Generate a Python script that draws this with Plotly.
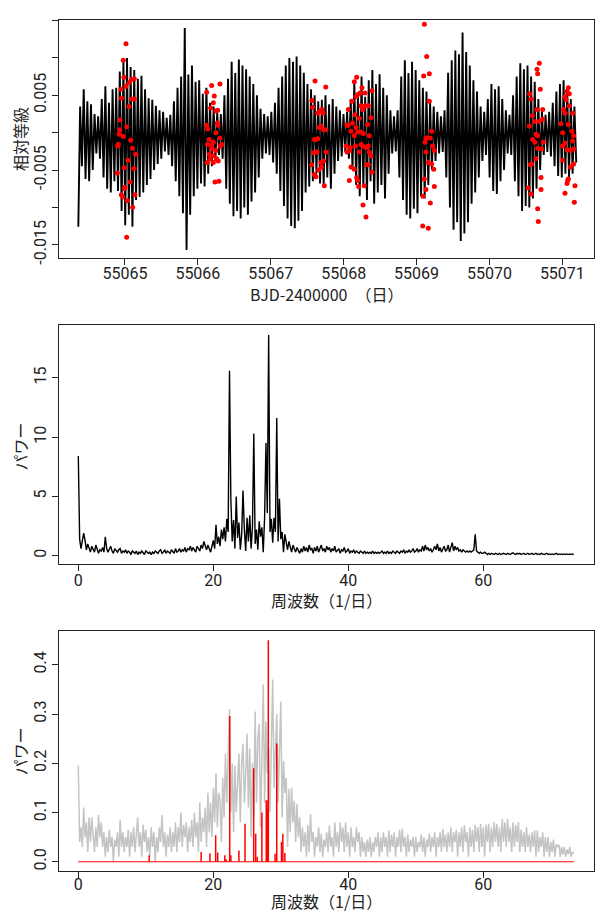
import numpy as np
import plotly.graph_objects as go

# ---------------- data ----------------
# light curve (relative magnitude, in millimag) - sequence of extrema
LC_T_START = 55064.36
LC_T_END = 55071.19
lc_mmag = [
    -12.6,
    3.5, -4.5, 5.8, -6.2, 4.2, -6.5, 3.8, -5.0,
    2.5, -2.8, 2.2,
    -3.5, 4.5, -6.0, 6.2, -7.5, 4.0, -8.0, 5.8, -6.5, 6.0, -7.8,
    8.2, -10.5, 9.5, -12.4, 10.0, -11.0, 8.8, -12.6,
    8.4, -9.0, 7.2, -8.6, 7.6, -8.0,
    5.8, -7.0, 4.6, -6.2, 4.4, -5.0, 3.6, -4.2, 3.0, -3.5, 2.8,
    -2.5, 2.0, -3.0, 2.4,
    -4.5, 4.2, -6.5, 6.0, -8.5, 7.5, -10.8, 14.0, -15.7, 7.8, -11.0, 9.0, -8.5,
    6.8, -7.5, 7.0, -6.8, 5.2, -7.2, 6.0, -5.5,
    4.0, -4.5, 3.5, -3.8, 2.8, -3.0, 2.5,
    -3.5, 5.0, -7.5, 7.2, -9.5, 9.5, -11.2, 8.0, -10.5, 9.8, -11.5, 9.0, -10.0, 8.5, -11.0, 7.5, -9.2, 6.5, -8.0, 5.0, -6.0,
    3.2, -3.5, 2.5, -2.8, 2.2, -3.0, 2.8, -4.0,
    4.0, -5.5, 6.0, -7.8, 7.5, -9.8, 9.0, -11.5, 10.0, -12.5, 9.5, -12.8, 10.2, -11.8, 9.0, -10.5, 8.0,
    -8.0, 6.5, -7.2, 5.8, -6.5, 5.0, -5.5, 4.2,
    -6.8, 4.4, -7.0, 5.0, -6.0, 3.8, -7.5, 4.5, -5.5, 3.5, -3.8,
    3.0, -3.2, 2.5, -2.6, 2.8, -3.5,
    4.5, -5.0, 6.8, -7.0, 5.2, -8.5, 7.5, -7.2, 4.8, -9.0, 7.0, -6.5, 8.4, -9.5, 6.5, -8.0, 7.8, -7.0, 6.0, -8.8, 5.0, -5.5,
    3.0, -2.8, 2.2, -2.5, 3.0,
    -6.0, 7.5, -9.0, 9.7, -11.0, 8.0, -11.5, 9.5, -10.2, 8.4, -10.8, 7.0, -8.5, 6.0, -8.8, 5.5, -7.0, 4.0,
    -5.0, 3.5, -3.8, 2.8, -2.8, 2.2, -2.6, 3.0,
    -6.0, 8.0, -10.0, 9.7, -13.0, 11.0, -12.0, 10.5, -14.5, 13.4, -13.5, 10.8, -12.0, 9.0,
    -9.5, 7.0, -8.0, 5.5, -6.0, 3.5, -3.8, 2.8,
    -3.0, 4.5, -6.0, 6.5, -7.8, 5.8, -8.2, 6.2, -6.5, 4.5, -5.0,
    3.0, -2.8, 2.4, -3.0,
    5.0, -6.5, 7.5, -8.5, 9.3, -10.5, 8.5, -9.8, 9.0, -10.0, 7.5, -8.8, 6.8, -7.5, 4.5, -5.0,
    3.0, -3.0, 2.4, -2.6, 2.8, -3.2,
    4.0, -4.5, 5.5, -5.8, 6.5, -6.0, 7.0, -5.5, 6.0, -6.0, 4.5, -5.5, 3.5, -4.0,
]

# red observation points (BJD-2400000, millimag)
obs_t = [
    55065.014, 55064.977, 55064.986, 55064.945, 55065.014, 55065.059, 55065.091, 55065.128, 55064.950, 55065.091,
    55065.128, 55065.055, 55064.931, 55065.023, 55064.927, 55064.922, 55064.977, 55065.078, 55065.101, 55064.909,
    55064.899, 55065.146, 55065.041, 55064.991, 55065.123, 55064.895, 55065.069, 55065.000, 55064.991, 55064.950,
    55064.968, 55065.137, 55065.032, 55065.105, 55065.023,
    55066.120, 55066.189, 55066.303, 55066.225, 55066.212, 55066.175, 55066.248, 55066.271, 55066.120, 55066.134,
    55066.267, 55066.276, 55066.248, 55066.157, 55066.212, 55066.134, 55066.189, 55066.308, 55066.326, 55066.248,
    55066.157, 55066.212, 55066.166, 55066.257, 55066.129, 55066.212, 55066.280, 55066.235, 55066.289, 55066.189,
    55066.303,
    55067.607, 55067.566, 55067.575, 55067.643, 55067.675, 55067.703, 55067.717, 55067.689, 55067.666, 55067.726,
    55067.620, 55067.598, 55067.643, 55067.749, 55067.588, 55067.620, 55067.758, 55067.561, 55067.726, 55067.689,
    55067.698, 55067.657, 55067.598, 55067.620, 55067.735, 55067.634, 55067.754,
    55068.146, 55068.178, 55068.064, 55068.114, 55068.169, 55068.192, 55068.224, 55068.251, 55068.293, 55068.389,
    55068.238, 55068.293, 55068.338, 55068.261, 55068.155, 55068.046, 55068.064, 55068.123, 55068.215, 55068.329,
    55068.375, 55068.169, 55068.101, 55068.192, 55068.238, 55068.146, 55068.270, 55068.352, 55068.032, 55068.091,
    55068.160, 55068.238, 55068.261, 55068.306, 55068.338, 55068.046, 55068.078, 55068.215, 55068.352, 55068.375,
    55068.338, 55068.311, 55068.101, 55068.146, 55068.178, 55068.192, 55068.206, 55068.283, 55068.078, 55068.265,
    55068.306, 55068.389,
    55069.107, 55069.139, 55069.097, 55069.175, 55069.175, 55069.207, 55069.129, 55069.152, 55069.189, 55069.116,
    55069.221, 55069.244, 55069.129, 55069.161, 55069.207, 55069.235, 55069.107, 55069.129, 55069.244, 55069.189,
    55069.088, 55069.084, 55069.161,
    55070.684, 55070.652, 55070.661, 55070.551, 55070.570, 55070.697, 55070.588, 55070.652, 55070.730, 55070.615,
    55070.684, 55070.730, 55070.661, 55070.547, 55070.592, 55070.624, 55070.739, 55070.661, 55070.716, 55070.638,
    55070.579, 55070.560, 55070.707, 55070.533, 55070.570, 55070.707, 55070.661, 55070.670, 55070.638,
    55071.082, 55071.064, 55071.096, 55071.036, 55071.050, 55071.018, 55071.036, 55071.096, 55071.141, 55070.981,
    55071.082, 55071.004, 55071.132, 55071.155, 55071.141, 55071.036, 55071.004, 55071.064, 55071.110, 55071.155,
    55071.004, 55071.110, 55071.155, 55071.073, 55071.064, 55071.082, 55071.036, 55071.173, 55071.164,
]
obs_mmag = [
    11.9, 9.7, 7.4, 5.8, 6.2, 6.7, 7.1, 7.2, 4.6, 4.5,
    4.5, 3.5, 1.7, 0.8, 0.4, -0.2, -0.5, -1.0, -2.1, -1.6,
    -1.8, -2.9, -3.7, -4.7, -4.8, -5.4, -6.6, -7.3, -7.5, -8.3,
    -8.6, -8.3, -9.1, -10.0, -14.0,
    5.4, 6.3, 6.5, 4.9, 4.0, 3.3, 2.9, 3.0, 1.0, 0.5,
    1.3, 1.0, 0.0, -0.9, -1.3, -1.6, -1.8, -1.8, -1.6, -2.4,
    -2.9, -3.1, -3.5, -3.5, -4.0, -4.0, -3.8, -6.6, -6.5, -2.2,
    -0.7,
    6.9, 4.3, 3.4, 2.6, 2.9, 3.1, 2.6, 0.9, 0.7, 0.4,
    -0.9, -0.9, -0.8, 0.4, -2.7, -2.6, -2.6, -4.3, -3.8, -4.0,
    -4.6, -5.0, -5.6, -5.9, -7.1, -2.6, 6.1,
    6.8, 7.4, 3.1, 4.2, 4.8, 5.1, 5.3, 6.0, 5.3, 5.6,
    3.6, 3.6, 3.6, 3.1, 2.4, 1.0, 1.0, 1.3, 1.9, 1.1,
    2.0, 0.7, 0.2, 0.1, 0.1, -0.4, -0.1, -0.4, -1.8, -2.0,
    -1.8, -1.6, -1.8, -2.0, -1.8, -2.6, -2.4, -2.6, -2.6, -3.1,
    -4.3, -4.3, -4.6, -4.9, -6.0, -6.4, -7.2, -7.1, -6.4, -9.7,
    -11.3, -5.3,
    14.5, 10.2, 7.6, 7.9, 4.2, 0.2, -0.7, -0.7, -0.7, -1.3,
    -1.8, -2.4, -2.6, -4.0, -4.2, -4.9, -6.2, -7.6, -7.2, -9.4,
    -8.5, -12.5, -12.8,
    9.3, 8.5, 7.9, 5.2, 4.5, 5.8, 2.3, 3.1, 3.1, 1.5,
    1.5, 1.8, -0.4, 0.9, -0.9, -1.3, -1.3, -2.1, -2.2, -3.5,
    -4.2, -4.3, -6.0, -7.4, -8.2, -7.6, -10.2, -11.9, -0.2,
    6.0, 5.5, 5.2, 4.8, 4.4, 3.1, 2.6, 3.6, 2.6, 1.2,
    1.1, 0.0, 0.2, -0.4, -1.1, -1.4, -1.8, -2.3, -2.4, -2.2,
    -3.7, -4.6, -4.2, -6.4, -6.8, -6.2, -8.1, -7.1, -9.3,
]

# periodogram (frequency grid step 0.2 1/day, starting at 0)
FREQ_STEP = 0.2
power = [
    8.4, 1.4, 0.6, 1.2, 1.9,   1.3, 0.5, 1.0, 0.7, 0.3,
    0.8, 0.5, 0.3, 0.9, 0.6,   0.2, 0.5, 0.4, 0.7, 0.3,
    1.6, 0.6, 0.3, 0.5, 0.8,   0.4, 0.2, 0.6, 0.4, 0.3,
    0.5, 0.6, 0.2, 0.4, 0.3,   0.5, 0.2, 0.4, 0.3, 0.1,
    0.4, 0.3, 0.2, 0.4, 0.1,   0.3, 0.2, 0.4, 0.2, 0.1,
    0.4, 0.3, 0.2, 0.3, 0.1,   0.3, 0.2, 0.4, 0.3, 0.2,
    0.4, 0.5, 0.2, 0.3, 0.5,   0.2, 0.4, 0.3, 0.2, 0.5,
    0.3, 0.2, 0.6, 0.3, 0.4,   0.6, 0.3, 0.5, 0.4, 0.7,
    0.3, 0.6, 0.5, 0.8, 0.4,   0.7, 0.5, 0.3, 0.8, 0.6,
    0.4, 0.9, 0.6, 1.2, 0.8,   0.5, 0.9, 0.6, 0.3, 0.8,
    1.3, 0.6, 2.6, 1.0, 1.6,   0.8, 2.2, 1.4, 2.4, 1.2,
    3.1, 2.0, 15.6, 4.8, 1.2,  3.0, 0.6, 5.0, 1.5, 2.8,
    0.5, 1.8, 5.5, 2.2, 0.4,   3.2, 1.2, 3.4, 0.6, 2.4,
    10.3, 1.0, 2.2, 0.5, 2.9,  1.6, 2.4, 0.3, 3.2, 9.5,
    3.6, 18.6, 2.0, 3.1, 1.1,  3.2, 2.0, 11.6, 1.2, 4.8,
    1.4, 2.0, 0.3, 1.8, 1.1,   0.5, 1.2, 0.7, 0.3, 0.9,
    0.5, 0.3, 0.7, 0.4, 0.2,   0.6, 0.3, 0.8, 0.4, 0.7,
    0.3, 0.9, 0.5, 0.6, 0.2,   0.7, 0.4, 0.8, 0.3, 0.6,
    0.9, 0.4, 0.6, 0.3, 0.8,   0.5, 0.7, 0.3, 0.6, 0.4,
    0.8, 0.3, 0.5, 0.6, 0.2,   0.5, 0.4, 0.7, 0.3, 0.4,
    0.6, 0.2, 0.4, 0.3, 0.5,   0.2, 0.4, 0.3, 0.2, 0.4,
    0.3, 0.2, 0.4, 0.2, 0.3,   0.2, 0.3, 0.2, 0.4, 0.2,
    0.3, 0.2, 0.3, 0.2, 0.3,   0.4, 0.2, 0.3, 0.2, 0.4,
    0.2, 0.3, 0.2, 0.4, 0.3,   0.2, 0.4, 0.3, 0.2, 0.4,
    0.3, 0.5, 0.2, 0.4, 0.3,   0.5, 0.3, 0.4, 0.6, 0.3,
    0.4, 0.6, 0.3, 0.5, 0.4,   0.8, 0.4, 0.9, 0.5, 0.7,
    0.4, 0.6, 0.3, 0.5, 0.8,   0.5, 1.0, 0.4, 0.7, 0.3,
    0.6, 0.8, 0.4, 0.5, 0.9,   0.3, 0.7, 1.1, 0.4, 0.8,
    0.5, 0.7, 0.4, 0.5, 0.3,   0.5, 0.4, 0.3, 0.4, 0.3,
    0.4, 0.3, 0.4, 0.5, 1.8,   0.4, 0.3, 0.2, 0.3, 0.2,
    0.2, 0.3, 0.2, 0.1, 0.2,   0.1, 0.2, 0.15, 0.1, 0.2,
    0.15, 0.1, 0.2, 0.1, 0.15, 0.2, 0.15, 0.1, 0.2, 0.15,
    0.1, 0.2, 0.25, 0.15, 0.1, 0.2, 0.15, 0.2, 0.1, 0.15,
    0.2, 0.1, 0.15, 0.2, 0.1,  0.15, 0.2, 0.1, 0.15, 0.2,
    0.1, 0.15, 0.1, 0.2, 0.15, 0.1, 0.15, 0.2, 0.1, 0.15,
    0.1, 0.15, 0.1, 0.15, 0.2, 0.1, 0.15, 0.1, 0.15, 0.1,
    0.15, 0.1, 0.15, 0.1, 0.15, 0.1, 0.15, 0.1,
]

# residual / comparison spectrum (grey), same frequency grid
power2 = [
    0.195, 0.04, 0.07, 0.03, 0.11,   0.05, 0.08, 0.02, 0.09, 0.04,
    0.09, 0.06, 0.02, 0.07, 0.03,    0.095, 0.05, 0.08, 0.03, 0.06,
    0.01, 0.05, 0.02, 0.065, 0.03,   0.05, 0.0, 0.045, 0.03, 0.06,
    0.01, 0.085, 0.03, 0.06, 0.02,   0.05, 0.03, 0.065, 0.01, 0.06,
    0.03, 0.07, 0.02, 0.055, 0.09,   0.03, 0.06, 0.01, 0.075, 0.04,
    0.065, 0.02, 0.05, 0.01, 0.07,   0.03, 0.06, 0.0, 0.05, 0.02,
    0.07, 0.04, 0.095, 0.03, 0.06,   0.01, 0.055, 0.03, 0.07, 0.02,
    0.06, 0.03, 0.08, 0.02, 0.07,    0.04, 0.1, 0.03, 0.075, 0.05,
    0.08, 0.02, 0.07, 0.04, 0.085,   0.03, 0.1, 0.05, 0.08, 0.02,
    0.12, 0.04, 0.09, 0.06, 0.11,    0.03, 0.14, 0.06, 0.12, 0.05,
    0.15, 0.08, 0.18, 0.07, 0.14,    0.125, 0.04, 0.17, 0.09, 0.22,
    0.12, 0.215, 0.31, 0.1, 0.2,     0.06, 0.195, 0.1, 0.17, 0.22,
    0.08, 0.2, 0.24, 0.12, 0.18,     0.26, 0.11, 0.23, 0.05, 0.2,
    0.09, 0.305, 0.12, 0.25, 0.28,   0.07, 0.21, 0.36, 0.12, 0.285,
    0.18, 0.23, 0.1, 0.27, 0.37,     0.15, 0.24, 0.3, 0.12, 0.26,
    0.325, 0.09, 0.205, 0.14, 0.17,  0.03, 0.148, 0.06, 0.15, 0.08,
    0.124, 0.04, 0.118, 0.05, 0.09,  0.02, 0.07, 0.03, 0.06, 0.01,
    0.075, 0.02, 0.097, 0.04, 0.06,  0.01, 0.05, 0.03, 0.07, 0.02,
    0.057, 0.01, 0.045, 0.03, 0.06,  0.02, 0.074, 0.03, 0.05, 0.01,
    0.08, 0.03, 0.06, 0.02, 0.08,    0.04, 0.07, 0.02, 0.08, 0.03,
    0.06, 0.01, 0.07, 0.03, 0.05,    0.02, 0.07, 0.04, 0.06, 0.01,
    0.05, 0.02, 0.04, 0.01, 0.045,   0.02, 0.05, 0.01, 0.04, 0.02,
    0.05, 0.03, 0.06, 0.01, 0.05,    0.02, 0.06, 0.03, 0.05, 0.01,
    0.064, 0.02, 0.055, 0.03, 0.06,  0.01, 0.05, 0.03, 0.065, 0.02,
    0.067, 0.03, 0.05, 0.01, 0.055,  0.02, 0.045, 0.03, 0.05, 0.01,
    0.05, 0.02, 0.04, 0.03, 0.055,   0.02, 0.05, 0.01, 0.045, 0.03,
    0.057, 0.02, 0.05, 0.03, 0.06,   0.01, 0.05, 0.03, 0.06, 0.02,
    0.067, 0.03, 0.055, 0.02, 0.06,  0.03, 0.07, 0.02, 0.06, 0.04,
    0.065, 0.01, 0.06, 0.03, 0.07,   0.02, 0.074, 0.04, 0.06, 0.01,
    0.07, 0.03, 0.065, 0.02, 0.075,  0.04, 0.07, 0.02, 0.077, 0.03,
    0.07, 0.01, 0.075, 0.04, 0.077,  0.02, 0.07, 0.03, 0.08, 0.04,
    0.077, 0.03, 0.07, 0.02, 0.087,  0.04, 0.08, 0.03, 0.087, 0.04,
    0.07, 0.02, 0.08, 0.03, 0.075,   0.04, 0.08, 0.02, 0.065, 0.03,
    0.06, 0.02, 0.07, 0.03, 0.055,   0.02, 0.06, 0.03, 0.064, 0.01,
    0.064, 0.02, 0.05, 0.03, 0.06,   0.01, 0.05, 0.02, 0.05, 0.01,
    0.04, 0.02, 0.045, 0.01, 0.035,  0.03, 0.035, 0.01, 0.03, 0.015,
    0.03, 0.01, 0.025, 0.015, 0.03,  0.01, 0.02, 0.017,
]

# spectral window spikes (red)
win_freq = [10.5, 18.2, 19.5, 20.35, 20.65, 21.7, 21.9, 22.43, 22.6, 23.8, 24.7, 25.98,
            26.28, 26.5, 27.2, 27.85, 27.95, 28.05, 28.15, 29.15, 29.4, 30.1, 30.3, 30.6]
win_power = [0.013, 0.02, 0.017, 0.054, 0.019, 0.013, 0.005, 0.296, 0.013, 0.023, 0.077, 0.19,
             0.057, 0.01, 0.10, 0.125, 0.125, 0.11, 0.45, 0.016, 0.24, 0.04, 0.057, 0.018]

top_xticks = [55065, 55066, 55067, 55068, 55069, 55070, 55071]
top_xticktext = ["55065", "55066", "55067", "55068", "55069", "55070", "55071"]
top_yticks = [-0.015, -0.01, -0.005, 0.0, 0.005, 0.01, 0.015]
top_yticktext = ["-0.015", "", "-0.005", "", "0.005", "", "0.015"]
freq_ticks = [0, 20, 40, 60]
freq_ticktext = ["0", "20", "40", "60"]
mid_yticks = [0, 5, 10, 15]
mid_yticktext = ["0", "5", "10", "15"]
bot_yticks = [0.0, 0.1, 0.2, 0.3, 0.4]
bot_yticktext = ["0.0", "0.1", "0.2", "0.3", "0.4"]

# ---------------- derived ----------------
n_lc = len(lc_mmag)
lc_t = [LC_T_START + (LC_T_END - LC_T_START) * i / (n_lc - 1) for i in range(n_lc)]
lc_mag = [v / 1000.0 for v in lc_mmag]
obs_mag = [v / 1000.0 for v in obs_mmag]
freq = [round(i * FREQ_STEP, 3) for i in range(len(power))]
freq2 = [round(i * FREQ_STEP, 3) for i in range(len(power2))]

win_x, win_y = [], []
for f, p in zip(win_freq, win_power):
    win_x += [f, f, None]
    win_y += [0, p, None]

FONT = "Noto Sans CJK JP"
TICK_FONT = "Roboto"
W, H = 595, 917

fig = go.Figure()
fig.add_trace(go.Scatter(x=lc_t, y=lc_mag, mode="lines",
                         line=dict(color="black", width=1.9), xaxis="x", yaxis="y"))
fig.add_trace(go.Scatter(x=obs_t, y=obs_mag, mode="markers",
                         marker=dict(color="#ff0000", size=5), xaxis="x", yaxis="y"))
fig.add_trace(go.Scatter(x=freq, y=power, mode="lines",
                         line=dict(color="black", width=1.4), xaxis="x2", yaxis="y2"))
fig.add_trace(go.Scatter(x=freq2, y=power2, mode="lines",
                         line=dict(color="#c4c4c4", width=1.5), xaxis="x3", yaxis="y3"))
fig.add_trace(go.Scatter(x=[freq2[0], freq2[-1]], y=[0, 0], mode="lines",
                         line=dict(color="#ff0000", width=1.2), xaxis="x3", yaxis="y3"))
fig.add_trace(go.Scatter(x=win_x, y=win_y, mode="lines",
                         line=dict(color="#ff0000", width=1.5), xaxis="x3", yaxis="y3"))

def px_x(a, b):
    return [a / W, b / W]

def px_y(top, bottom):
    return [1 - bottom / H, 1 - top / H]

axis_common = dict(showline=True, mirror=True, linecolor="#222222", linewidth=1,
                   ticks="outside", ticklen=6, tickwidth=1, tickcolor="#222222",
                   showgrid=False, zeroline=False, tickmode="array",
                   tickfont=dict(family=TICK_FONT, size=16, color="#222222"))

fig.update_layout(
    width=W, height=H, margin=dict(l=0, r=0, t=0, b=0),
    paper_bgcolor="white", plot_bgcolor="white", showlegend=False,
    xaxis=dict(domain=px_x(59, 594), anchor="y", range=[55064.095, 55071.434],
               tickvals=top_xticks, ticktext=top_xticktext, ticklabelstandoff=-5, **axis_common),
    yaxis=dict(domain=px_y(20, 260), anchor="x", range=[-0.01678, 0.0151],
               tickvals=top_yticks, ticktext=top_yticktext, tickangle=-90, **axis_common),
    xaxis2=dict(domain=px_x(59, 594), anchor="y2", range=[-2.86, 76.4],
                tickvals=freq_ticks, ticktext=freq_ticktext, ticklabelstandoff=-4, **axis_common),
    yaxis2=dict(domain=px_y(328, 568), anchor="x2", range=[-0.67, 19.41],
                tickvals=mid_yticks, ticktext=mid_yticktext, tickangle=-90, **axis_common),
    xaxis3=dict(domain=px_x(59, 594), anchor="y3", range=[-2.86, 76.4],
                tickvals=freq_ticks, ticktext=freq_ticktext, ticklabelstandoff=-7, **axis_common),
    yaxis3=dict(domain=px_y(635.7, 877.3), anchor="x3", range=[-0.018, 0.469],
                tickvals=bot_yticks, ticktext=bot_yticktext, tickangle=-90, **axis_common),
)

title_font = dict(family=FONT, size=16, color="#222222")
annots = [
    dict(text="BJD-2400000\u3000（日）", x=326.5 / W, y=1 - 296 / H, textangle=0),
    dict(text="相対等級", x=20 / W, y=1 - 140 / H, textangle=-90),
    dict(text="周波数（1/日）", x=326.5 / W, y=1 - 605 / H, textangle=0),
    dict(text="パワー", x=20 / W, y=1 - 450 / H, textangle=-90),
    dict(text="周波数（1/日）", x=326.5 / W, y=1 - 907.5 / H, textangle=0),
    dict(text="パワー", x=20 / W, y=1 - 757 / H, textangle=-90),
]
for a in annots:
    fig.add_annotation(xref="paper", yref="paper", xanchor="center", yanchor="middle",
                       showarrow=False, font=title_font, **a)

fig.write_html("out.html", config={"displayModeBar": False},
               post_script="document.body.style.margin='0';document.body.style.padding='0';"
                           "document.body.style.overflow='hidden';")
